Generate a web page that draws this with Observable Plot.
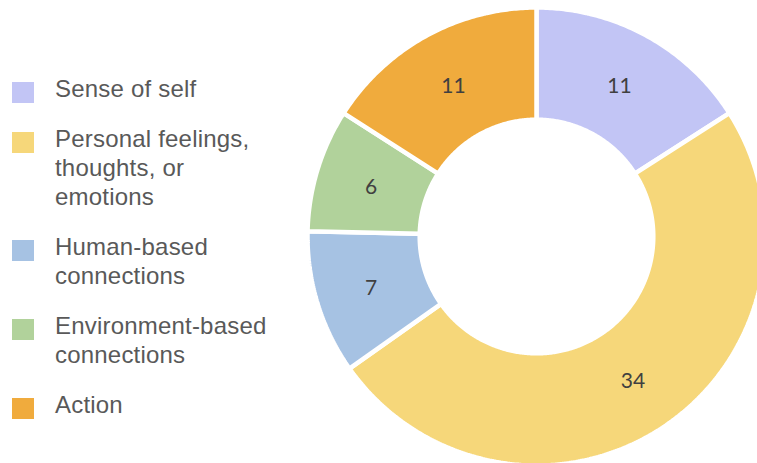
<!DOCTYPE html>
<html>
<head>
<meta charset="utf-8">
<script src="https://cdn.jsdelivr.net/npm/d3@7"></script>
<script src="https://cdn.jsdelivr.net/npm/@observablehq/plot@0.6"></script>
<style>
  html, body { margin: 0; padding: 0; background: #fff; }
  #wrap { position: relative; width: 757px; height: 463px; overflow: hidden; }
  #chart { position: absolute; left: 0; top: 0; }
  #legend { position: absolute; left: 12px; top: 74px; font-family: "Liberation Sans", Arial, sans-serif;
            font-size: 24px; line-height: 29px; color: #595959; letter-spacing: 0.2px; }
  .item { position: relative; padding-left: 43px; margin-bottom: 21px; }
  .sw { position: absolute; left: 0; top: 8px; width: 22px; height: 21px; }
</style>
</head>
<body>
<div id="wrap">
  <div id="chart"></div>
  <div id="legend"></div>
</div>
<script>
const categories = ["Sense of self", "Personal feelings, thoughts, or emotions", "Human-based connections", "Environment-based connections", "Action"];
const values = [11, 34, 7, 6, 11];
const colors = ["#c2c5f5", "#f6d77a", "#a6c2e3", "#b1d29b", "#f0ab3d"];
const legendLines = [["Sense of self"], ["Personal feelings,", "thoughts, or", "emotions"], ["Human-based", "connections"], ["Environment-based", "connections"], ["Action"]];

const outerR = 1.0, innerR = 0.51;
const pie = d3.pie().sort(null).value(d => d.value);
const slices = pie(categories.map((name, i) => ({name, value: values[i]})));

// polygon outline for each slice (angle measured clockwise from top)
const pts = [];
for (const s of slices) {
  const n = Math.max(2, Math.ceil((s.endAngle - s.startAngle) / 0.01));
  const ring = [];
  for (let k = 0; k <= n; k++) {
    const a = s.startAngle + (s.endAngle - s.startAngle) * k / n;
    ring.push({name: s.data.name, x: outerR * Math.sin(a), y: outerR * Math.cos(a)});
  }
  for (let k = n; k >= 0; k--) {
    const a = s.startAngle + (s.endAngle - s.startAngle) * k / n;
    ring.push({name: s.data.name, x: innerR * Math.sin(a), y: innerR * Math.cos(a)});
  }
  ring.push({...ring[0]});
  pts.push(...ring);
}
const labels = slices.map(s => {
  const a = (s.startAngle + s.endAngle) / 2, r = (outerR + innerR) / 2;
  return {name: s.data.name, value: s.data.value, x: r * Math.sin(a), y: r * Math.cos(a)};
});

const cx = 536, cy = 236, R = 229;
const plot = Plot.plot({
  width: 757, height: 463,
  margin: 0,
  x: {domain: [-1, 1], range: [cx - R, cx + R], axis: null},
  y: {domain: [-1, 1], range: [cy + R, cy - R], axis: null},
  color: {domain: categories, range: colors},
  marks: [
    Plot.line(pts, {x: "x", y: "y", z: "name", fill: "name", stroke: "white", strokeWidth: 4.5, strokeLinejoin: "miter", curve: "linear"}),
    Plot.text(labels, {x: "x", y: "y", dy: 1, text: d => String(d.value), fill: "#404040", fontSize: 21, fontFamily: "Lato, 'Open Sans', sans-serif"})
  ]
});
document.getElementById("chart").appendChild(plot);

const legend = document.getElementById("legend");
categories.forEach((c, i) => {
  const item = document.createElement("div");
  item.className = "item";
  const sw = document.createElement("div");
  sw.className = "sw";
  sw.style.background = colors[i];
  item.appendChild(sw);
  legendLines[i].forEach(t => {
    const line = document.createElement("div");
    line.textContent = t;
    item.appendChild(line);
  });
  legend.appendChild(item);
});
</script>
</body>
</html>
